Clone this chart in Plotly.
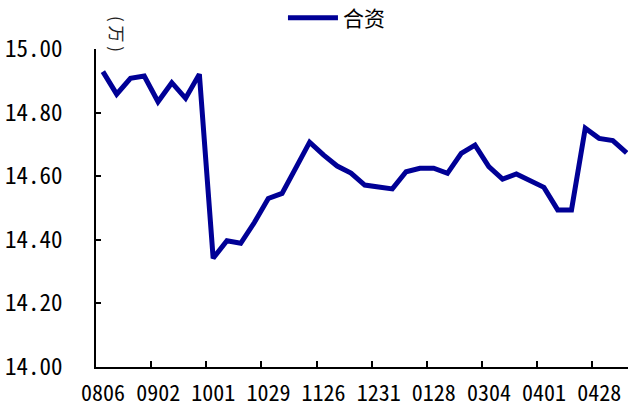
import plotly.graph_objects as go

# Weekly price series (unit: 万)
idx = list(range(39))
values = [14.929, 14.858, 14.908, 14.915, 14.834, 14.894, 14.845, 14.921,
          14.342, 14.397, 14.389, 14.455, 14.530, 14.546, 14.626, 14.707,
          14.667, 14.632, 14.610, 14.572, 14.566, 14.560, 14.614, 14.625,
          14.625, 14.609, 14.672, 14.698, 14.630, 14.591, 14.607, 14.585,
          14.565, 14.494, 14.494, 14.751, 14.719, 14.712, 14.673]
series_name = "合资"
tick_labels = ["0806", "0902", "1001", "1029", "1126",
               "1231", "0128", "0304", "0401", "0428"]
label_step = 4
y_ticks = [14.0, 14.2, 14.4, 14.6, 14.8, 15.0]

W, H = 628, 408
ML, MR, MT, MB = 96, 0, 49, 41
x_range = [-0.5, 38.1]
cat_px = (W - ML - MR) / (x_range[1] - x_range[0])

# ticks sit on the boundaries between categories; labels are centred on categories
boundary_vals = [i * label_step - 0.5 for i in range(len(tick_labels))]

mono = "Noto Sans Mono CJK SC, Liberation Mono, monospace"

fig = go.Figure()
fig.add_trace(go.Scatter(
    x=idx, y=values, mode="lines", name=series_name,
    line=dict(color="#000096", width=5),
))

fig.update_layout(
    width=W, height=H,
    margin=dict(l=ML, r=MR, t=MT, b=MB, autoexpand=False),
    paper_bgcolor="white", plot_bgcolor="white",
    showlegend=True,
    legend=dict(orientation="h", x=0.452, y=1.097, xanchor="center",
                yanchor="middle", itemwidth=50,
                font=dict(family="Noto Sans CJK SC", size=21, color="#000000"),
                bgcolor="rgba(0,0,0,0)"),
    xaxis=dict(range=x_range, tickmode="array", tickvals=boundary_vals,
               ticktext=tick_labels, ticks="inside", ticklen=6, tickwidth=2,
               tickcolor="black", showline=True, linecolor="black", linewidth=2,
               showgrid=False, zeroline=False,
               tickfont=dict(family=mono, size=22, color="#000000"),
               automargin=False,
               ticklabelshift=int(round(cat_px / 2)), ticklabelstandoff=6),
    yaxis=dict(range=[14.0, 15.0], tickmode="array", tickvals=y_ticks,
               tickformat=".2f", ticks="inside", ticklen=5, tickwidth=2,
               tickcolor="black", showline=True, linecolor="black", linewidth=2,
               showgrid=False, zeroline=False,
               tickfont=dict(family=mono, size=23, color="#000000"),
               automargin=False, ticklabelstandoff=27),
    annotations=[dict(text="( 万 )", textangle=90, xref="paper", yref="paper",
                      x=(117 - ML) / (W - ML - MR), y=(H - MB - 34) / (H - MT - MB),
                      showarrow=False, xanchor="center", yanchor="middle",
                      font=dict(family="Noto Sans CJK SC", size=17, color="#222222"))],
)

fig.write_html("out.html")
